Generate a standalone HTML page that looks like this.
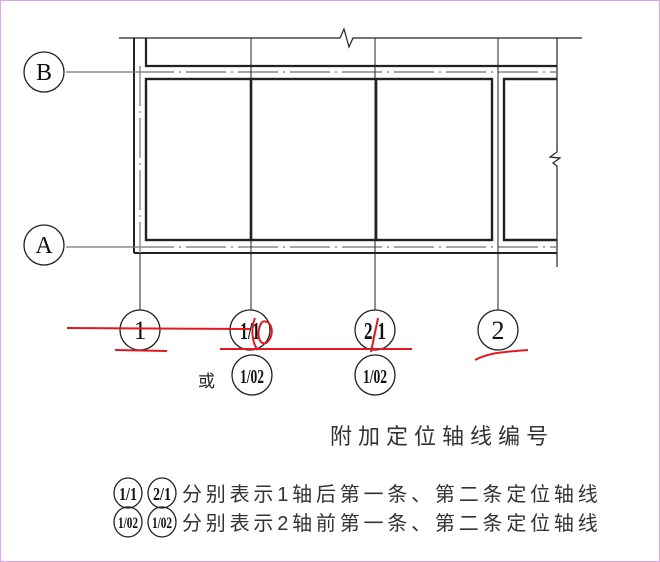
<!DOCTYPE html>
<html><head><meta charset="utf-8"><style>
html,body{margin:0;padding:0;background:#fff;}
svg{display:block;}
text{font-family:"Liberation Serif","Noto Serif CJK SC",serif;}
.cj{font-family:"Liberation Sans","Noto Sans CJK SC",sans-serif;}
</style></head><body>
<svg width="660" height="562" viewBox="0 0 660 562" xmlns="http://www.w3.org/2000/svg">
<rect x="0.5" y="0.5" width="659" height="561" fill="#fff" stroke="#d9a6e6"/>
<g stroke="#222" fill="none">
<polyline points="119,38 340,38 344,29 349,47 353,38 582,38" stroke-width="1.2"/>
<polyline points="557,38 557,152 550,157 560,158 553,163 557,166 557,267" stroke-width="1.2"/>
<line x1="134" y1="38" x2="134" y2="253" stroke-width="2"/>
<polyline points="146,38 146,66 557,66" stroke-width="2.2"/>
<line x1="134" y1="253" x2="557" y2="253" stroke-width="2"/>
<rect x="146" y="79" width="105" height="161" stroke-width="2.4"/>
<rect x="251" y="79" width="125" height="161" stroke-width="2.4"/>
<rect x="376" y="79" width="116" height="161" stroke-width="2.4"/>
<polyline points="557,79 504,79 504,240 557,240" stroke-width="2.4"/>
<line x1="66" y1="72" x2="134" y2="72" stroke-width="1" stroke="#555"/>
<line x1="66" y1="247" x2="134" y2="247" stroke-width="1" stroke="#555"/>
<line x1="134" y1="72" x2="557" y2="72" stroke-width="1.6" stroke="#888" stroke-dasharray="40,5,2,5"/>
<line x1="134" y1="247" x2="557" y2="247" stroke-width="1.6" stroke="#888" stroke-dasharray="40,5,2,5"/>
<line x1="140" y1="253" x2="140" y2="310" stroke-width="1"/>
<line x1="140" y1="66" x2="140" y2="253" stroke-width="1.4" stroke="#888" stroke-dasharray="40,5,2,5"/>
<line x1="251" y1="38" x2="251" y2="310" stroke-width="1"/>
<line x1="375" y1="38" x2="375" y2="310" stroke-width="1"/>
<line x1="498" y1="38" x2="498" y2="310" stroke-width="1"/>
<circle cx="44" cy="72" r="20" stroke-width="1.3"/>
<circle cx="44" cy="245" r="20" stroke-width="1.3"/>
<circle cx="140" cy="330" r="20" stroke-width="1.3"/>
<circle cx="250" cy="330" r="20" stroke-width="1.3"/>
<circle cx="375" cy="330" r="20" stroke-width="1.3"/>
<circle cx="498" cy="330" r="20" stroke-width="1.3"/>
<circle cx="252" cy="375" r="20" stroke-width="1.3"/>
<circle cx="375" cy="375" r="20" stroke-width="1.3"/>
<ellipse cx="128" cy="493" rx="14" ry="15" stroke-width="1.3"/>
<ellipse cx="162" cy="493" rx="14" ry="15" stroke-width="1.3"/>
<ellipse cx="128" cy="522" rx="14" ry="15" stroke-width="1.3"/>
<ellipse cx="162" cy="522" rx="14" ry="15" stroke-width="1.3"/>
</g>
<g fill="#111" text-anchor="middle">
<text x="44" y="80" font-size="24">B</text>
<text x="44" y="253" font-size="24">A</text>
<text x="140" y="339" font-size="26">1</text>
<text x="250" y="339" font-size="24" font-weight="bold" textLength="20" lengthAdjust="spacingAndGlyphs">1/1</text>
<text x="375" y="339" font-size="24" font-weight="bold" textLength="22" lengthAdjust="spacingAndGlyphs">2/1</text>
<text x="498" y="339" font-size="26">2</text>
<text x="252" y="383" font-size="20" font-weight="bold" textLength="24" lengthAdjust="spacingAndGlyphs">1/02</text>
<text x="375" y="383" font-size="20" font-weight="bold" textLength="24" lengthAdjust="spacingAndGlyphs">1/02</text>
<text x="128" y="500" font-size="18" font-weight="bold" textLength="18" lengthAdjust="spacingAndGlyphs">1/1</text>
<text x="162" y="500" font-size="18" font-weight="bold" textLength="18" lengthAdjust="spacingAndGlyphs">2/1</text>
<text x="128" y="528" font-size="16" font-weight="bold" textLength="20" lengthAdjust="spacingAndGlyphs">1/02</text>
<text x="162" y="528" font-size="16" font-weight="bold" textLength="20" lengthAdjust="spacingAndGlyphs">1/02</text>
</g>
<text class="cj" x="198" y="387" font-size="17" fill="#222">或</text>
<text class="cj" x="330" y="444" font-size="22" fill="#333" letter-spacing="6">附加定位轴线编号</text>
<text class="cj" x="182" y="501" font-size="20" fill="#333" letter-spacing="3.8">分别表示1轴后第一条、第二条定位轴线</text>
<text class="cj" x="182" y="530" font-size="20" fill="#333" letter-spacing="3.8">分别表示2轴前第一条、第二条定位轴线</text>
<g stroke="#e0191e" stroke-width="2" fill="none">
<line x1="67" y1="328" x2="250" y2="329"/>
<line x1="115" y1="350" x2="167" y2="351"/>
<line x1="220" y1="349" x2="412" y2="349"/>
<path d="M255,318 C250,330 253,345 258,350 M262,322 C272,318 276,336 266,343 C258,346 256,330 262,322"/>
<line x1="378" y1="318" x2="371" y2="352"/>
<path d="M475,360 C490,352 505,352 528,350"/>
</g>
</svg>
</body></html>
